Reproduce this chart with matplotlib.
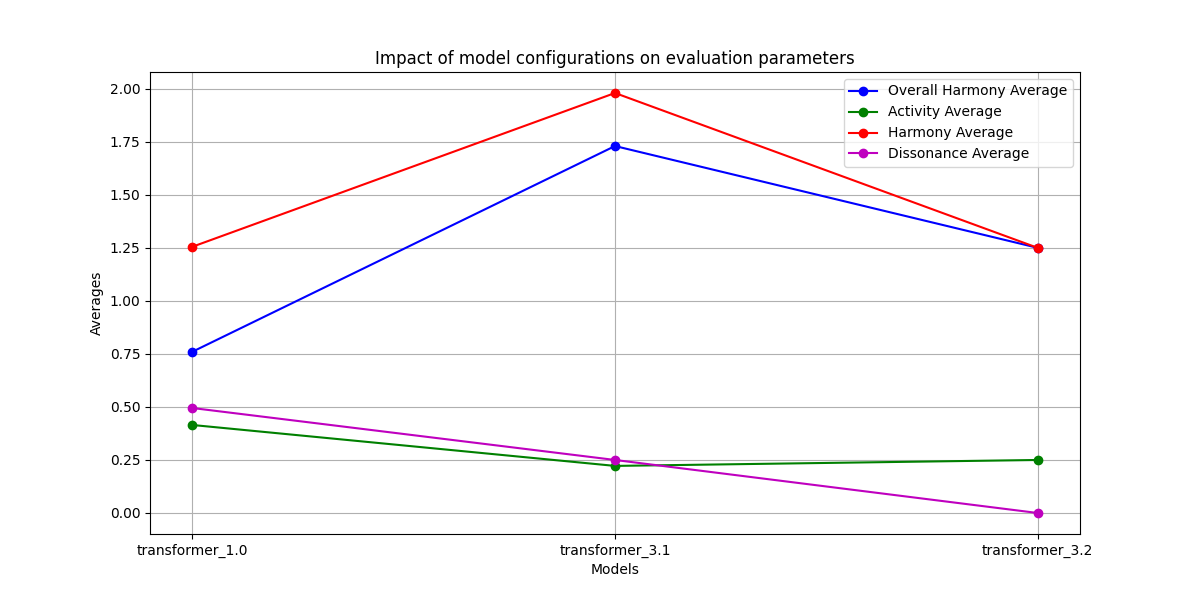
import matplotlib
matplotlib.use("Agg")
import matplotlib.pyplot as plt

# 数据
models = ['transformer_1.0', 'transformer_3.1', 'transformer_3.2']
overall_harmony = [0.76, 1.73, 1.25]
activity = [0.415, 0.222, 0.25]
harmony = [1.255, 1.98, 1.25]
dissonance = [0.495, 0.25, 0.0]

plt.figure(figsize=(12, 6))
plt.plot(models, overall_harmony, marker='o', color='b', label='Overall Harmony Average')
plt.plot(models, activity, marker='o', color='g', label='Activity Average')
plt.plot(models, harmony, marker='o', color='r', label='Harmony Average')
plt.plot(models, dissonance, marker='o', color='m', label='Dissonance Average')

plt.title('Impact of model configurations on evaluation parameters')
plt.xlabel('Models')
plt.ylabel('Averages')
plt.legend()
plt.grid(True)

plt.savefig('out.png', dpi=100)
